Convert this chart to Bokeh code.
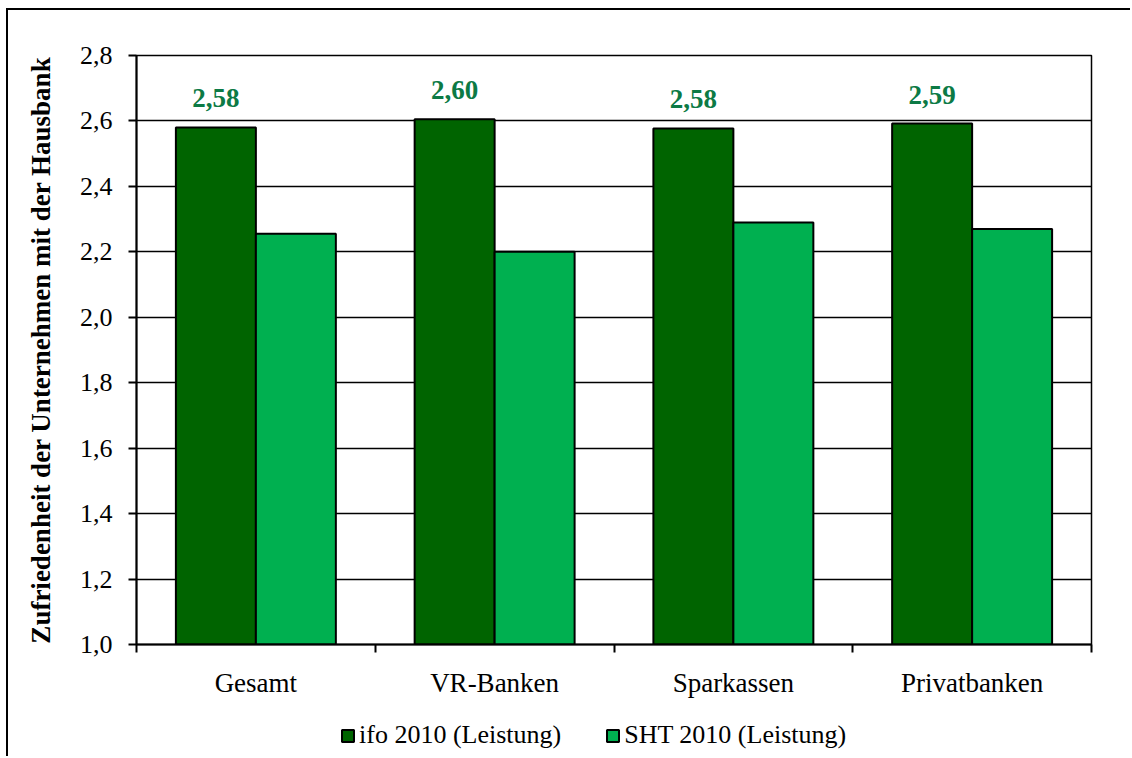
from bokeh.plotting import figure
from bokeh.layouts import column
from bokeh.models import (ColumnDataSource, FixedTicker, CustomJSTickFormatter,
                          Legend, LegendItem, Range1d)
from bokeh.core.properties import value
from bokeh.embed import file_html
from bokeh.resources import INLINE

# ---- data ----
categories = ["Gesamt", "VR-Banken", "Sparkassen", "Privatbanken"]
ifo_2010 = [2.58, 2.605, 2.577, 2.592]
sht_2010 = [2.255, 2.20, 2.29, 2.27]
ifo_labels = ["2,58", "2,60", "2,58", "2,59"]
series_names = ["ifo 2010 (Leistung)", "SHT 2010 (Leistung)"]
y_ticks = [1.0, 1.2, 1.4, 1.6, 1.8, 2.0, 2.2, 2.4, 2.6, 2.8]
y_axis_title = "Zufriedenheit der Unternehmen mit der Hausbank"

FONT = "Liberation Serif"
DARK = "#006400"
LIGHT = "#00B050"
LABEL_COLOR = "#0C7A45"
BAR_W = 0.335

n = len(categories)
centers = [i + 0.5 for i in range(n)]
src = ColumnDataSource(dict(
    x_ifo=[c - BAR_W / 2 for c in centers],
    x_sht=[c + BAR_W / 2 for c in centers],
    ifo=ifo_2010,
    sht=sht_2010,
    lab=ifo_labels,
))

W = 1122
p = figure(width=W, height=690, output_backend="svg", toolbar_location=None,
           x_range=Range1d(0, n), y_range=Range1d(y_ticks[0], y_ticks[-1]),
           min_border_left=128, min_border_top=45, min_border_right=39,
           min_border_bottom=56)
p.background_fill_color = "white"
p.border_fill_color = "white"
p.outline_line_color = "black"
p.outline_line_width = 1.5

bar_style_ifo = dict(fill_color=DARK, line_color="black", line_width=2)
bar_style_sht = dict(fill_color=LIGHT, line_color="black", line_width=2)

p.vbar(x="x_ifo", top="ifo", bottom=y_ticks[0], width=BAR_W, source=src, **bar_style_ifo)
p.vbar(x="x_sht", top="sht", bottom=y_ticks[0], width=BAR_W, source=src, **bar_style_sht)

p.text(x="x_ifo", y="ifo", text="lab", source=src, text_align="center",
       text_baseline="alphabetic", y_offset=-29,
       text_font=value(FONT), text_font_style="bold", text_font_size="27px",
       text_color=LABEL_COLOR)

# x axis
xa = p.xaxis[0]
xa.ticker = FixedTicker(ticks=centers, minor_ticks=list(range(n + 1)))
xa.major_label_overrides = {c: cat for c, cat in zip(centers, categories)}
xa.major_tick_out = 0
xa.major_tick_in = 0
xa.minor_tick_out = 8
xa.minor_tick_in = 0
xa.minor_tick_line_color = "black"
xa.minor_tick_line_width = 2
xa.axis_line_color = "black"
xa.axis_line_width = 2
xa.major_label_text_font = FONT
xa.major_label_text_font_size = "27px"
xa.major_label_text_color = "black"
xa.major_label_standoff = 15

# y axis
ya = p.yaxis[0]
ya.ticker = FixedTicker(ticks=y_ticks)
ya.formatter = CustomJSTickFormatter(code="return tick.toFixed(1).replace('.', ',');")
ya.major_tick_out = 8
ya.major_tick_in = 0
ya.minor_tick_out = 0
ya.minor_tick_in = 0
ya.major_tick_line_color = "black"
ya.major_tick_line_width = 2
ya.axis_line_color = "black"
ya.axis_line_width = 2
ya.major_label_text_font = FONT
ya.major_label_text_font_size = "26px"
ya.major_label_text_color = "black"
ya.major_label_standoff = 16
ya.axis_label = y_axis_title
ya.axis_label_text_font = FONT
ya.axis_label_text_font_size = "27px"
ya.axis_label_text_font_style = "bold"
ya.axis_label_text_color = "black"
ya.axis_label_standoff = 21

p.xgrid.visible = False
p.ygrid.ticker = FixedTicker(ticks=y_ticks)
p.ygrid.grid_line_color = "black"
p.ygrid.grid_line_width = 1.5

# legend strip below the chart (its renderers are hidden, only the legend shows)
lf = figure(width=W, height=56, output_backend="svg", toolbar_location=None,
            x_range=Range1d(1000, 1001), y_range=Range1d(1000, 1001),
            x_axis_location=None, y_axis_location=None, min_border=0)
lf.outline_line_color = None
lf.xgrid.visible = False
lf.ygrid.visible = False
l1 = lf.vbar(x="x_ifo", top="ifo", bottom=y_ticks[0], width=BAR_W, source=src, **bar_style_ifo)
l2 = lf.vbar(x="x_sht", top="sht", bottom=y_ticks[0], width=BAR_W, source=src, **bar_style_sht)
l1.visible = False
l2.visible = False
legend = Legend(items=[LegendItem(label=series_names[0], renderers=[l1]),
                       LegendItem(label=series_names[1], renderers=[l2])],
                orientation="horizontal", location=(204, 6),
                glyph_width=15, glyph_height=15, label_standoff=4, spacing=44,
                padding=0, margin=0, border_line_color=None,
                background_fill_alpha=0,
                label_text_font=FONT, label_text_font_size="26px",
                label_text_color="black")
lf.add_layout(legend, "center")

layout = column(p, lf, spacing=0)
layout.styles = {"border-top": "2px solid black", "border-left": "2px solid black",
                 "margin-left": "6px", "margin-top": "8px"}

open("out.html", "w").write(file_html(layout, INLINE))
